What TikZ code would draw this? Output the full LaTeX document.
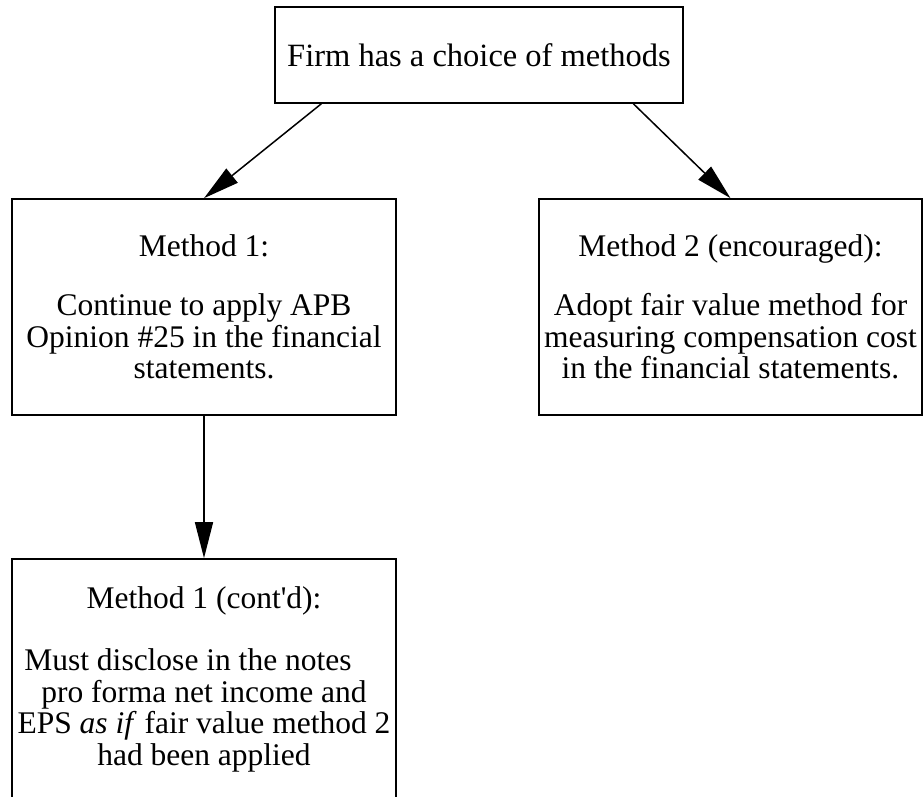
\documentclass[tikz,border=0pt]{standalone}
\usepackage{fontspec}
\setmainfont{Liberation Serif}
\usepackage{tikz}
\usetikzlibrary{arrows.meta, positioning}
\usetikzlibrary{calc}

\begin{document}
\begin{tikzpicture}[x=1pt, y=-1pt,
  methodbox/.style={draw, rectangle, line width=1.6pt, align=center, inner sep=0pt,
    font=\fontsize{31.5}{31.5}\selectfont},
  flow/.style={line width=1.5pt, -{Triangle[length=36pt, width=18pt]}}]
\useasboundingbox (0,0) rectangle (924,797);
\node[methodbox, minimum width=408pt, minimum height=96pt, font=\fontsize{32.5}{32.5}\selectfont] (choice) at (479,55) {Firm has a choice of methods};
\node[methodbox, minimum width=384pt, minimum height=216pt] (m1) at (204,307) {Method 1:\\[28pt]Continue to apply APB\\Opinion \#25 in the financial\\statements.};
\node[methodbox, minimum width=383pt, minimum height=216pt] (m2) at (730.5,307) {Method 2 (encouraged):\\[28pt]Adopt fair value method for\\measuring compensation cost\\in the financial statements.};
\node[methodbox, minimum width=384pt, minimum height=240pt] (m1cont) at (204,679) {Method 1 (cont\textquotesingle d):\\[31pt]Must disclose in the notes\rule{32pt}{0pt}\\pro forma net income and\\EPS \emph{as if} fair value method 2\\had been applied};
\draw[flow] ($(choice.south west)!0.115!(choice.south east)$) -- (m1.north);
\draw[flow] ($(choice.south west)!0.877!(choice.south east)$) -- (m2.north);
\draw[flow] (m1.south) -- (m1cont.north);
    \end{tikzpicture}
\end{document}
